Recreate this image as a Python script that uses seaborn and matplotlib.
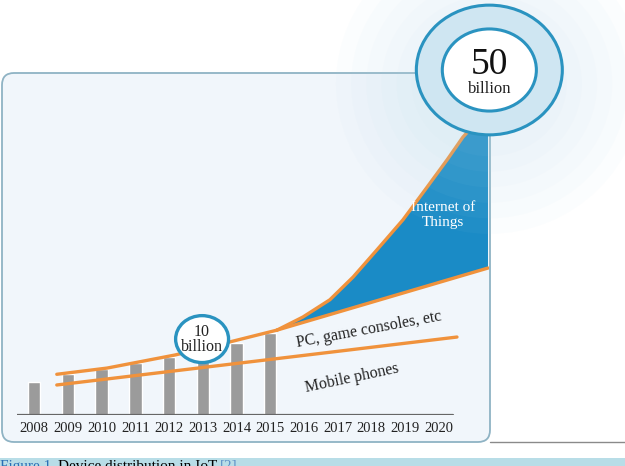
import matplotlib
matplotlib.use('Agg')
import matplotlib.pyplot as plt
import seaborn as sns
from matplotlib.patches import Ellipse, FancyBboxPatch, Rectangle

# data (billions of devices, x as year)
years = ['2008', '2009', '2010', '2011', '2012', '2013', '2014',
         '2015', '2016', '2017', '2018', '2019', '2020']
bar_years = ['2008', '2009', '2010', '2011', '2012', '2013', '2014', '2015']
bar_values = [4.8, 5.9, 6.7, 7.5, 8.4, 9.2, 10.4, 11.9]

mobile_x = [2008.67, 2015.59, 2020.54]
mobile_y = [4.35, 8.4, 11.3]

total_x = [2008.67, 2010.16, 2012.18, 2013.81, 2015.20]
total_y = [5.9, 6.8, 8.7, 10.6, 12.3]

pc_x = [2015.20, 2021.46]
pc_y = [12.3, 21.3]

iot_x = [2015.20, 2015.97, 2016.77, 2017.46, 2018.16, 2018.94, 2019.65,
         2020.25, 2020.72, 2021.46]
iot_y = [12.3, 14.2, 16.7, 20.0, 23.9, 28.3, 33.0, 37.0, 40.3, 44.2]

orange = '#f0923c'
blue = '#1a8bc6'
ring = '#2a93c0'

sns.set_style('white')
plt.rcParams['font.family'] = ['Liberation Serif', 'DejaVu Serif']

fig = plt.figure(figsize=(6.25, 4.66), dpi=100)

# background layer in pixel units
bg = fig.add_axes([0, 0, 1, 1])
bg.set_xlim(0, 625)
bg.set_ylim(466, 0)
bg.axis('off')
bg.add_patch(FancyBboxPatch((2, 73), 488, 369, boxstyle='round,pad=0,rounding_size=12',
                            facecolor='#f1f6fb', edgecolor='#8fb3c4', lw=1.3))
bg.plot([490, 625], [442, 442], color='#8a8a8a', lw=1)
bg.add_patch(Rectangle((0, 458), 625, 10, color='#b8dde7', lw=0))
bg.text(0, 470, 'Figure 1.', color='#2a6fb5', fontsize=11, va='baseline')
bg.text(58, 470, 'Device distribution in IoT', color='black', fontsize=11, va='baseline')
bg.text(220, 470, '[2]', color='#5b8fc7', fontsize=11, va='baseline')

# chart layer
ax = fig.add_axes([17 / 625, 51 / 466, 472 / 625, 345 / 466])
ax.patch.set_alpha(0)
sns.barplot(x=bar_years, y=bar_values, color='#9b9b9b', width=0.37,
            saturation=1, ax=ax, zorder=2)

def px(xs):
    return [v - 2008 for v in xs]

fill_x = px(iot_x) + px(pc_x)[::-1]
fill_y = iot_y + pc_y[::-1]
ax.fill(fill_x, fill_y, color=blue, zorder=3, lw=0)

for xs, ys in [(mobile_x, mobile_y), (total_x, total_y), (pc_x, pc_y), (iot_x, iot_y)]:
    sns.lineplot(x=px(xs), y=ys, color=orange, lw=2.4, ax=ax, zorder=4)

ax.plot([-0.51, 12.41], [0, 0], color='#666666', lw=1.6, zorder=5)

# soft haze around the 50 billion marker
for i in range(6):
    ax.add_patch(Ellipse((13.5, 48), 4.6 + i * 0.9, 21 + i * 4.5, facecolor='#b5dbef',
                         edgecolor='none', alpha=0.045, clip_on=False, zorder=6))
ax.add_patch(Ellipse((13.5, 50), 4.33, 18.8, facecolor='#cfe6f2', edgecolor=ring,
                     lw=2.2, clip_on=False, zorder=7))
ax.add_patch(Ellipse((13.5, 50), 2.79, 11.9, facecolor='white', edgecolor=ring,
                     lw=2.2, clip_on=False, zorder=8))
ax.text(13.5, 50.8, '50', fontsize=27, ha='center', va='center', zorder=9, color='#111111')
ax.text(13.5, 47.2, 'billion', fontsize=12, ha='center', va='center', zorder=9, color='#222222')

ax.add_patch(Ellipse((4.98, 11.0), 1.57, 6.8, facecolor='white', edgecolor=ring,
                     lw=2.4, clip_on=False, zorder=8))
ax.text(4.98, 12.0, '10', fontsize=11.5, ha='center', va='center', zorder=9, color='#222222')
ax.text(4.98, 9.9, 'billion', fontsize=11.5, ha='center', va='center', zorder=9, color='#222222')

ax.text(9.93, 12.3, 'PC, game consoles, etc', fontsize=11.5, rotation=10.5,
        ha='center', va='center', color='#222222', zorder=9)
ax.text(9.43, 5.3, 'Mobile phones', fontsize=11.5, rotation=12,
        ha='center', va='center', color='#222222', zorder=9)
ax.text(12.13, 29.0, 'Internet of\nThings', fontsize=11, ha='center', va='center',
        color='white', linespacing=1.15, zorder=9)

ax.set_xlim(-0.51, 13.49)
ax.set_ylim(0, 50)
ax.set_xticks(range(len(years)))
ax.set_xticklabels(years, fontsize=10.5, color='#222222')
ax.tick_params(axis='x', length=0, pad=5)
ax.set_yticks([])
ax.set_xlabel('')
ax.set_ylabel('')
sns.despine(ax=ax, left=True, bottom=True)

fig.savefig('out.png', dpi=100)
